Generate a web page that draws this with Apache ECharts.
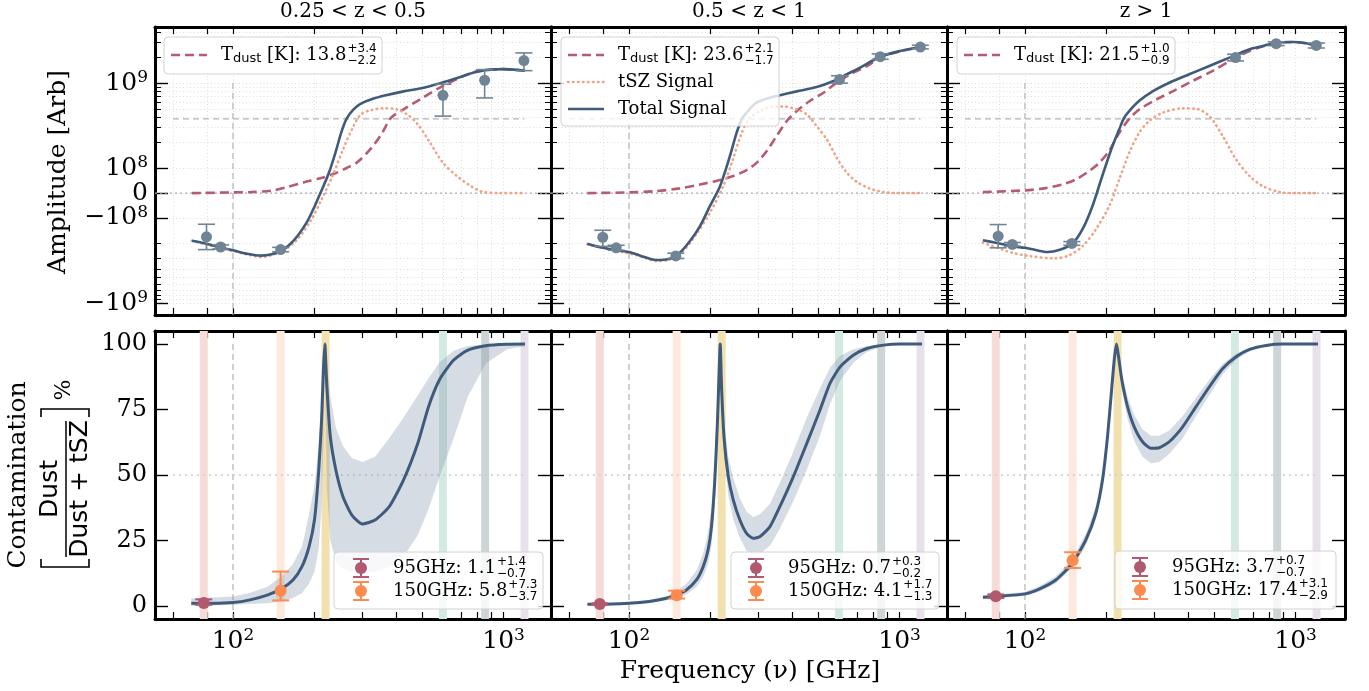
<!DOCTYPE html>
<html lang="en">
<head>
<meta charset="utf-8">
<script src="https://cdn.jsdelivr.net/npm/echarts@6.0.0/dist/echarts.min.js"></script>
<style>
  html, body { margin: 0; padding: 0; background: #fff; }
  #main { width: 1369px; height: 691px; }
</style>
</head>
<body>
<div id="main"></div>
<script>
// ---------------- data ----------------
// frequencies in GHz, amplitudes in Arb, contamination in %
var titles = ['0.25 < z < 0.5', '0.5 < z < 1', 'z > 1'];

// top row, 0.25 < z < 0.5
var totNu1 = [70.5, 79, 90, 100, 112, 127, 139, 150, 161, 174, 188, 200, 212, 226, 240, 251, 263, 279, 297, 325, 367, 427, 497, 579, 674, 784, 885, 1000, 1096, 1200];
var totAmp1 = [-1.86e8, -2.0e8, -2.24e8, -2.4e8, -2.63e8, -2.78e8, -2.68e8, -2.45e8, -2.1e8, -1.6e8, -1.11e8, -5.5e7, 8.2e6, 8.1e7, 1.59e8, 2.61e8, 3.83e8, 4.93e8, 5.75e8, 6.47e8, 7.2e8, 8.0e8, 8.7e8, 9.9e8, 1.15e9, 1.34e9, 1.44e9, 1.46e9, 1.44e9, 1.4e9];
var dustNu1 = [70.5, 100, 116, 139, 157, 182, 212, 240, 263, 288, 325, 356, 384, 427, 497, 597, 694, 784, 885, 1000, 1200];
var dustAmp1 = [0, 2.7e6, 4e6, 1e7, 2.3e7, 4.3e7, 6.1e7, 8.1e7, 1.01e8, 1.18e8, 1.74e8, 2.61e8, 3.93e8, 4.93e8, 6.6e8, 9.3e8, 1.17e9, 1.36e9, 1.43e9, 1.46e9, 1.4e9];
var tszNu1 = [70.5, 90, 116, 127, 150, 172, 194, 212, 233, 255, 279, 297, 325, 367, 402, 440, 482, 526, 597, 674, 760, 832, 970, 1200];
var tszAmp1 = [-1.86e8, -2.26e8, -2.75e8, -2.88e8, -2.5e8, -1.83e8, -1.07e8, -2.8e7, 6.8e7, 1.66e8, 3.13e8, 4.3e8, 4.84e8, 5.07e8, 4.93e8, 4.3e8, 3.28e8, 2.18e8, 1.16e8, 6.8e7, 2.7e7, 6e6, 0, 0];
var ptNu1 = [79.8, 90, 150, 597, 851, 1189];
var ptAmp1 = [-1.67e8, -2.2e8, -2.36e8, 7.2e8, 1.08e9, 1.84e9];
var ptLo1 = [-2.36e8, -2.32e8, -2.5e8, 4.1e8, 6.7e8, 1.4e9];
var ptHi1 = [-1.19e8, -2.08e8, -2.22e8, 9.7e8, 1.44e9, 2.26e9];

// top row, 0.5 < z < 1
var totNu2 = [70.2, 80, 89.7, 100, 109.5, 126, 141.5, 154, 168, 183, 199, 217, 236, 250, 261, 272, 296, 341, 361, 417, 494, 570, 639, 715, 848, 1005, 1193];
var totAmp2 = [-2.01e8, -2.25e8, -2.39e8, -2.52e8, -2.76e8, -3.13e8, -3.02e8, -2.57e8, -1.87e8, -1.25e8, -5.3e7, 2.8e7, 1.39e8, 2.62e8, 3.76e8, 4.5e8, 5.9e8, 6.9e8, 7.2e8, 8.0e8, 9.0e8, 1.06e9, 1.27e9, 1.52e9, 2.04e9, 2.38e9, 2.65e9];
var dustNu2 = [70.2, 100, 126, 154, 183, 210, 243, 272, 296, 323, 351, 383, 417, 467, 523, 586, 657, 757, 848, 1005, 1193];
var dustAmp2 = [0, 2.7e6, 8e6, 1.9e7, 3.5e7, 4.9e7, 6.9e7, 9.3e7, 1.16e8, 1.6e8, 2.39e8, 3.59e8, 4.7e8, 6.2e8, 7.7e8, 1.01e9, 1.27e9, 1.58e9, 2.0e9, 2.36e9, 2.63e9];
var tszNu2 = [70.2, 109.5, 126, 141.5, 158.5, 177, 199, 223, 242, 261, 280, 305, 341, 372, 417, 454, 494, 538, 586, 639, 695, 778, 873, 1005, 1193];
var tszAmp2 = [-2.05e8, -2.8e8, -3.2e8, -3.08e8, -2.45e8, -1.57e8, -8e7, 2.8e7, 1.27e8, 2.62e8, 3.93e8, 4.7e8, 5.3e8, 5.3e8, 4.92e8, 4.3e8, 3.13e8, 2.19e8, 1.33e8, 8.2e7, 4.5e7, 1.8e7, 4e6, 0, 0];
var ptNu2 = [80, 89.7, 149, 600, 848, 1193];
var ptAmp2 = [-1.69e8, -2.25e8, -2.8e8, 1.1e9, 2.04e9, 2.65e9];
var ptLo2 = [-2.16e8, -2.4e8, -3.0e8, 1.0e9, 1.9e9, 2.52e9];
var ptHi2 = [-1.4e8, -2.1e8, -2.6e8, 1.22e9, 2.2e9, 2.78e9];

// top row, z > 1
var totNu3 = [69.9, 77.9, 89.8, 100, 109.5, 121, 133.6, 149.7, 163, 177.5, 193, 210.5, 223, 232.6, 242.8, 264.4, 296.3, 341.4, 404.8, 480, 570, 676, 757, 848, 977, 1095, 1193];
var totAmp3 = [-1.83e8, -1.96e8, -2.16e8, -2.25e8, -2.39e8, -2.52e8, -2.39e8, -2.0e8, -1.37e8, -5.3e7, 6.9e7, 1.83e8, 2.87e8, 3.93e8, 4.7e8, 6.2e8, 8.0e8, 1.01e9, 1.27e9, 1.59e9, 1.99e9, 2.49e9, 2.72e9, 2.98e9, 3.04e9, 2.93e9, 2.72e9];
var dustNu3 = [69.9, 100, 119, 137.5, 154, 172.6, 188, 204.7, 223, 242.8, 264.4, 304.9, 351.4, 416.6, 494, 586, 676, 757, 848, 977, 1095, 1193];
var dustAmp3 = [4e6, 1.1e7, 2e7, 3.5e7, 5.5e7, 8.9e7, 1.16e8, 1.6e8, 2.62e8, 3.8e8, 4.9e8, 6.4e8, 8e8, 1.06e9, 1.39e9, 1.9e9, 2.38e9, 2.7e9, 2.96e9, 3.03e9, 2.93e9, 2.72e9];
var tszNu3 = [69.9, 89.8, 103.5, 128, 145.5, 163, 182.7, 204.7, 223, 242.8, 264.4, 287.9, 322.7, 382.6, 428.6, 480, 538, 603, 676, 757, 873, 1005, 1193];
var tszAmp3 = [-1.96e8, -2.57e8, -2.8e8, -2.99e8, -2.76e8, -2.16e8, -1.37e8, -5.3e7, 5.5e7, 1.53e8, 2.62e8, 3.59e8, 4.5e8, 5.05e8, 5.0e8, 4.1e8, 2.39e8, 1.27e8, 6.9e7, 2.8e7, 4e6, 0, 0];
var ptNu3 = [79.6, 89.8, 149, 600, 848, 1193];
var ptAmp3 = [-1.64e8, -2.05e8, -2.0e8, 1.99e9, 2.9e9, 2.77e9];
var ptLo3 = [-2.25e8, -2.15e8, -2.1e8, 1.82e9, 2.75e9, 2.58e9];
var ptHi3 = [-1.2e8, -1.95e8, -1.9e8, 2.18e9, 3.05e9, 2.95e9];

// dust temperature fits shown in the legends
var tDust = [13.8, 23.6, 21.5];
var tDustUp = [3.4, 2.1, 1.0];
var tDustDn = [2.2, 1.7, 0.9];

// bottom row: contamination curve with its shaded range
var conNu1 = [70.1, 78, 100, 115.7, 134.6, 152, 166.6, 179.8, 191, 200, 207.5, 212.5, 215.8, 218.4, 222.3, 229, 240, 255, 275, 301, 335, 378, 427, 482, 528, 579, 654, 738, 859, 1031, 1200];
var con1 = [1.0, 0.9, 1.3, 2.3, 4.2, 6.7, 9.9, 15, 22.6, 32.8, 51.9, 71, 90, 100, 83.7, 64.6, 51.9, 41.7, 34.7, 31.3, 32.8, 37.9, 48.1, 62.1, 76.1, 86.3, 93.9, 97.7, 99.4, 99.9, 100];
var conHi1 = [2.9, 3.0, 3.6, 5, 7.4, 11.5, 16, 22.6, 35, 46, 62, 77, 92, 100, 92, 80, 68, 61, 56.5, 55, 57, 64, 72, 80.5, 87, 93, 97.5, 99.3, 99.8, 100, 100];
var conLo1 = [0, 0.1, 0.4, 0.7, 1.0, 1.8, 3, 4.8, 8.5, 13, 22, 38, 62, 100, 45, 25, 17, 14, 13, 12.5, 13, 15, 19, 27, 37, 49, 64, 80, 92.6, 98, 99.2];

var conNu2 = [70.2, 77.4, 100, 119, 137.5, 149.7, 163, 177.6, 188, 196, 201.8, 207.6, 212.4, 215.4, 217.3, 219.8, 224.4, 232.8, 242.8, 257, 272, 288, 305, 332, 361, 405, 454, 508, 553, 603, 676, 757, 873, 1005, 1210];
var con2 = [0.6, 0.6, 1.0, 1.7, 2.9, 4.2, 6.1, 9.9, 15, 21.4, 30.3, 48.1, 71, 90, 100, 83.7, 64.6, 49.4, 40.5, 32.8, 27.7, 25.8, 26.5, 30.3, 37.9, 49.4, 62.1, 74.8, 85, 91.3, 95.8, 98.3, 99.6, 100, 100];
var conHi2 = [1.0, 1.0, 1.5, 2.4, 3.8, 5.5, 8.5, 13.5, 20, 28, 38, 57, 79, 94, 100, 88, 71, 57, 49, 41, 36, 34, 35, 39, 47, 59, 72, 83, 91, 95.5, 98, 99.3, 99.9, 100, 100];
var conLo2 = [0.4, 0.4, 0.7, 1.2, 2.1, 3.1, 4.4, 7.2, 11, 16, 23, 39, 63, 86, 100, 79, 58, 42, 33, 26, 21, 19.5, 20, 23, 29.5, 40, 52, 65, 77, 86, 93, 97, 99.2, 99.9, 100];

var conNu3 = [69.9, 77.9, 100, 112.7, 129.9, 149.7, 167.8, 182.7, 193.4, 201.8, 209.4, 214.3, 217.9, 221.7, 228, 239.3, 253.3, 272, 292, 313.5, 341.4, 382.6, 428.6, 480, 538, 603, 676, 778, 897, 1210];
var con3 = [3.3, 3.6, 4.6, 6.4, 9.9, 16.3, 25.2, 35.4, 48.1, 64.6, 83.7, 95.2, 100, 95.2, 86.3, 76.1, 68.4, 62.7, 60.2, 60.4, 62.7, 68.4, 76.1, 83.7, 90.7, 95.2, 98, 99.5, 100, 100];
var conHi3 = [4.0, 4.3, 5.4, 7.4, 11.2, 18, 27.5, 38, 51, 67, 85.5, 96, 100, 96.5, 89, 80, 73, 67.5, 65, 65, 67, 72.5, 79.5, 86.5, 92.5, 96.3, 98.6, 99.7, 100, 100];
var conLo3 = [2.6, 2.9, 3.8, 5.4, 8.6, 14.6, 23, 33, 45.5, 62, 82, 94.4, 100, 93.5, 83, 71.5, 63, 57, 54.5, 55, 58, 64, 72.5, 80.5, 88.5, 94, 97.3, 99.2, 99.9, 100];

// contamination measured at the two channels
var chanName = ['95GHz', '150GHz'];
var chanNu = [78, 150];
var cont95 = [1.1, 0.7, 3.7];
var cont95Up = [1.4, 0.3, 0.7];
var cont95Dn = [0.7, 0.2, 0.7];
var cont150 = [5.8, 4.1, 17.4];
var cont150Up = [7.3, 1.7, 3.1];
var cont150Dn = [3.7, 1.3, 2.9];

// instrument bands drawn as vertical stripes
var bandNu = [78, 150, 220, 597, 855, 1195];
var bandCol = ['#f6dcd6', '#fce8dc', '#f2e0ae', '#d3eae3', '#cdd5d6', '#e8e0eb'];

// reference marks
var refNu = 100;
var refSpan = [60, 1195];
var refAmp = 3.8e8;
var refPct = 50;

// ticks
var freqMajor = [100, 1000];
var freqMinor = [60, 80, 200, 300, 400, 500, 600, 700, 800, 900];
var ampMajor = [-1e9, -1e8, 0, 1e8, 1e9];
var ampMinor = [-9e8, -8e8, -7e8, -6e8, -5e8, -4e8, -3e8, -2e8, 2e8, 3e8, 4e8, 5e8, 6e8, 7e8, 8e8, 9e8, 2e9, 3e9, 4e9];
var pctTicks = [0, 25, 50, 75, 100];
var ampLim = [-1.38e9, 4.55e9];
var pctLim = [-5, 105];
var freqLo = 51.5;

// ---------------- look ----------------
var SERIF = 'DejaVu Serif', SANS = 'DejaVu Sans';
var C_TOT = '#3f5b7c', C_DUST = '#b65c70', C_TSZ = '#f2a283', C_PT = '#708496';
var C_95 = '#b0596f', C_150 = '#fd8a4e';
var COL_X = [155, 551, 947], COL_W = [396, 396, 398];
var ROW_Y = [27, 331], ROW_H = 288;
var PX_DEC = 270.6;

// symlog transform used for the amplitude axis
var LIN = 1e8, LINW = 0.29;
function T(v) {
  var a = Math.abs(v), s = v < 0 ? -1 : 1;
  return a < LIN ? s * LINW * a / LIN : s * (LINW + Math.log10(a / LIN));
}
var lg = Math.log10;

var RICH = {
  b: { fontFamily: SERIF, fontSize: 25, color: '#000', lineHeight: 28 },
  s: { fontFamily: SERIF, fontSize: 17, color: '#000', lineHeight: 14, verticalAlign: 'top' }
};

function ampLabel(v) {
  var best = 0;
  ampMajor.forEach(function (a, i) {
    if (Math.abs(T(a) - v) < Math.abs(T(ampMajor[best]) - v)) best = i;
  });
  var a = ampMajor[best];
  if (a === 0) return '{b|0}';
  return '{b|' + (a < 0 ? '\u221210' : '10') + '}{s|' + Math.round(lg(Math.abs(a))) + '}';
}

var option = {
  animation: false, backgroundColor: '#fff',
  grid: [], xAxis: [], yAxis: [], series: [], graphic: []
};

function tickAxis(extra) {
  return Object.assign({
    type: 'value',
    axisLine: { show: false, onZero: false },
    axisTick: { show: true, inside: true, length: 7, lineStyle: { color: '#000', width: 1.2 } },
    axisLabel: { show: false },
    splitLine: { show: false }
  }, extra);
}

var dotGrid = { show: true, lineStyle: { color: '#d6d6d6', width: 0.8, type: [1, 2.5] } };
var border = { show: true, onZero: false, lineStyle: { color: '#000', width: 3 } };

function addPanel(row, col) {
  var gi = option.grid.length;
  option.grid.push({ left: COL_X[col], top: ROW_Y[row], width: COL_W[col], height: ROW_H });
  var xmin = lg(freqLo), xmax = xmin + COL_W[col] / PX_DEC;
  var xt = freqMajor.concat(freqMinor).map(lg);
  var xi = option.xAxis.length;
  option.xAxis.push(tickAxis({
    gridIndex: gi, position: 'bottom', min: xmin, max: xmax, axisLine: border,
    axisTick: { show: true, inside: true, length: 7, customValues: xt, lineStyle: { color: '#000', width: 1.2 } },
    axisLabel: row === 1 ? {
      show: true, customValues: freqMajor.map(lg), margin: 8, rich: RICH,
      formatter: function (v) { return '{b|10}{s|' + Math.round(v) + '}'; }
    } : { show: false },
    splitLine: row === 0 ? dotGrid : { show: false }
  }));
  option.xAxis.push(tickAxis({
    gridIndex: gi, position: 'top', min: xmin, max: xmax, axisLine: border,
    axisTick: { show: true, inside: true, length: 7, customValues: xt, lineStyle: { color: '#000', width: 1.2 } }
  }));
  var yi = option.yAxis.length;
  if (row === 0) {
    var ymin = T(ampLim[0]), ymax = T(ampLim[1]);
    var maj = ampMajor.map(T), mnr = ampMinor.map(T);
    ['left', 'right'].forEach(function (pos) {
      option.yAxis.push(tickAxis({
        gridIndex: gi, position: pos, min: ymin, max: ymax, axisLine: border,
        axisTick: { show: true, inside: true, length: 13, customValues: maj, lineStyle: { color: '#000', width: 1.4 } },
        axisLabel: (pos === 'left' && col === 0) ? {
          show: true, customValues: maj, margin: 7, rich: RICH, formatter: ampLabel
        } : { show: false },
        splitLine: pos === 'left' ? dotGrid : { show: false }
      }));
      option.yAxis.push(tickAxis({
        gridIndex: gi, position: pos, min: ymin, max: ymax,
        axisTick: { show: true, inside: true, length: 6, customValues: mnr, lineStyle: { color: '#000', width: 1 } },
        splitLine: pos === 'left' ? dotGrid : { show: false }
      }));
    });
  } else {
    ['left', 'right'].forEach(function (pos) {
      option.yAxis.push(tickAxis({
        gridIndex: gi, position: pos, min: pctLim[0], max: pctLim[1], axisLine: border,
        axisTick: { show: true, inside: true, length: 13, customValues: pctTicks, lineStyle: { color: '#000', width: 1.4 } },
        axisLabel: (pos === 'left' && col === 0) ? {
          show: true, customValues: pctTicks, margin: 8,
          fontFamily: SERIF, fontSize: 24, color: '#000'
        } : { show: false }
      }));
    });
  }
  return { xi: xi, yi: yi, xmin: xmin, xmax: xmax };
}

function line(ax, nu, vals, style, z, smooth) {
  option.series.push({
    type: 'line', xAxisIndex: ax.xi, yAxisIndex: ax.yi, silent: true,
    data: nu.map(function (f, i) { return [lg(f), vals[i]]; }),
    symbol: 'none', showSymbol: false, smooth: smooth || false,
    lineStyle: style, z: z
  });
}

function errRender(color, r, cap, lw) {
  return function (params, api) {
    var c = api.coord([api.value(0), api.value(1)]);
    var lo = api.coord([api.value(0), api.value(2)])[1];
    var hi = api.coord([api.value(0), api.value(3)])[1];
    var st = { stroke: color, lineWidth: lw };
    return { type: 'group', children: [
      { type: 'line', shape: { x1: c[0], y1: lo, x2: c[0], y2: hi }, style: st },
      { type: 'line', shape: { x1: c[0] - cap, y1: lo, x2: c[0] + cap, y2: lo }, style: st },
      { type: 'line', shape: { x1: c[0] - cap, y1: hi, x2: c[0] + cap, y2: hi }, style: st },
      { type: 'circle', shape: { cx: c[0], cy: c[1], r: r }, style: { fill: color } }
    ] };
  };
}

function errSeries(ax, rows, color, r, cap, lw) {
  option.series.push({
    type: 'custom', xAxisIndex: ax.xi, yAxisIndex: ax.yi, silent: true, z: 6,
    data: rows, encode: { x: 0, y: [1, 2, 3] }, renderItem: errRender(color, r, cap, lw)
  });
}

function bandSeries(ax, nu, lo, hi) {
  option.series.push({
    type: 'custom', xAxisIndex: ax.xi, yAxisIndex: ax.yi, silent: true, z: 3,
    data: nu.map(function (f, i) { return [lg(f), lo[i], hi[i]]; }),
    encode: { x: 0, y: [1, 2] },
    renderItem: function (params, api) {
      if (params.dataIndex !== 0) return null;
      var pts = [], i;
      for (i = 0; i < nu.length; i++) pts.push(api.coord([lg(nu[i]), hi[i]]));
      for (i = nu.length - 1; i >= 0; i--) pts.push(api.coord([lg(nu[i]), lo[i]]));
      return { type: 'polygon', shape: { points: pts }, style: { fill: '#7f91aa', opacity: 0.32 } };
    }
  });
}

var topSets = [
  [totNu1, totAmp1, dustNu1, dustAmp1, tszNu1, tszAmp1, ptNu1, ptAmp1, ptLo1, ptHi1],
  [totNu2, totAmp2, dustNu2, dustAmp2, tszNu2, tszAmp2, ptNu2, ptAmp2, ptLo2, ptHi2],
  [totNu3, totAmp3, dustNu3, dustAmp3, tszNu3, tszAmp3, ptNu3, ptAmp3, ptLo3, ptHi3]
];
var botSets = [
  [conNu1, con1, conLo1, conHi1],
  [conNu2, con2, conLo2, conHi2],
  [conNu3, con3, conLo3, conHi3]
];

for (var c = 0; c < 3; c++) {
  var s = topSets[c];
  var ax = addPanel(0, c);
  // zero line, reference marks
  option.series.push({
    type: 'line', xAxisIndex: ax.xi, yAxisIndex: ax.yi, silent: true, symbol: 'none', z: 2,
    data: [[ax.xmin, 0], [ax.xmax, 0]],
    lineStyle: { color: '#a3adbb', width: 1.4, type: [2, 3] }
  });
  line(ax, [refNu, refNu], [T(1e9), T(ampLim[0])], { color: '#b3b3b3', width: 1.2, type: [6, 4] }, 2);
  line(ax, refSpan, [T(refAmp), T(refAmp)], { color: '#b3b3b3', width: 1.2, type: [6, 4] }, 2);
  line(ax, s[2], s[3].map(T), { color: C_DUST, width: 2.6, type: [9, 5] }, 4, 0.3);
  line(ax, s[4], s[5].map(T), { color: C_TSZ, width: 2.6, type: [0.5, 4.5], cap: 'round' }, 4, 0.3);
  line(ax, s[0], s[1].map(T), { color: C_TOT, width: 2.6 }, 5, 0.3);
  errSeries(ax, s[6].map(function (f, i) {
    return [lg(f), T(s[7][i]), T(s[8][i]), T(s[9][i])];
  }), C_PT, 5.5, 8.5, 1.6);
}

for (c = 0; c < 3; c++) {
  var b = botSets[c];
  var axb = addPanel(1, c);
  bandNu.forEach(function (f, i) {
    option.series.push({
      type: 'line', xAxisIndex: axb.xi, yAxisIndex: axb.yi, silent: true, symbol: 'none', z: 1,
      data: [[lg(f), pctLim[0]], [lg(f), pctLim[1]]],
      lineStyle: { color: bandCol[i], width: 8, cap: 'butt' }
    });
  });
  line(axb, [refNu, refNu], [100, pctLim[0]], { color: '#b3b3b3', width: 1.2, type: [6, 4] }, 2);
  line(axb, refSpan, [refPct, refPct], { color: '#cccccc', width: 1.4, type: [2, 4] }, 2);
  bandSeries(axb, b[0], b[2], b[3]);
  line(axb, b[0], b[1], { color: C_TOT, width: 3 }, 5, 0.2);
  var v95 = cont95[c], v150 = cont150[c];
  errSeries(axb, [[lg(chanNu[0]), v95, v95 - cont95Dn[c], v95 + cont95Up[c]]], C_95, 6, 8.5, 2);
  errSeries(axb, [[lg(chanNu[1]), v150, v150 - cont150Dn[c], v150 + cont150Up[c]]], C_150, 6, 8.5, 2);
}

// ---------------- text, legends ----------------
var mctx = document.createElement('canvas').getContext('2d');
function tw(s, size, fam) { mctx.font = size + 'px "' + fam + '"'; return mctx.measureText(s).width; }
function txt(x, y, s, size, fam, opt) {
  opt = opt || {};
  return {
    type: 'text', x: x, y: y, z: 100, rotation: opt.rot || 0,
    style: { text: s, font: size + 'px "' + fam + '"', fill: opt.fill || '#000',
      align: opt.align || 'left', verticalAlign: opt.va || 'middle' }
  };
}
// sequence of text runs starting at x, each {s, size, fam, dy}
function runs(x, y, parts) {
  var out = [];
  parts.forEach(function (p) {
    out.push(txt(x, y + (p.dy || 0), p.s, p.size, p.fam));
    x += tw(p.s, p.size, p.fam);
  });
  return { els: out, x: x };
}
function scripts(x, y, up, dn) {
  return [txt(x, y - 6.5, '+' + up, 12, SANS), txt(x, y + 5.5, '\u2212' + dn, 12, SANS)];
}
function box(x, y, w, h) {
  return { type: 'rect', z: 99, shape: { x: x, y: y, width: w, height: h, r: 4 },
    style: { fill: 'rgba(255,255,255,0.8)', stroke: '#d2d2d2', lineWidth: 1 } };
}
function sample(x, y, style) {
  return { type: 'line', z: 100, shape: { x1: x, y1: y, x2: x + 36, y2: y }, style: style };
}

var G = option.graphic;
// titles
titles.forEach(function (t, i) {
  G.push(txt(COL_X[i] + COL_W[i] / 2, 12, t, 20, SERIF, { align: 'center' }));
});
// axis names
G.push(txt(58, 172, 'Amplitude [Arb]', 25, SERIF, { align: 'center', rot: Math.PI / 2 }));
G.push(txt(750, 671, 'Frequency (\u03bd) [GHz]', 25, SERIF, { align: 'center' }));
G.push(txt(18, 475, 'Contamination', 25, SERIF, { align: 'center', rot: Math.PI / 2 }));
G.push(txt(50, 489, 'Dust', 25, SANS, { align: 'center', rot: Math.PI / 2 }));
G.push(txt(80, 489, 'Dust + tSZ', 25, SANS, { align: 'center', rot: Math.PI / 2 }));
G.push({ type: 'line', z: 100, shape: { x1: 66, y1: 421, x2: 66, y2: 557 }, style: { stroke: '#000', lineWidth: 1.5 } });
G.push({ type: 'polyline', z: 100, shape: { points: [[41, 559], [41, 567], [89, 567], [89, 559]] }, style: { stroke: '#000', lineWidth: 1.6, fill: null } });
G.push({ type: 'polyline', z: 100, shape: { points: [[41, 417], [41, 409], [89, 409], [89, 417]] }, style: { stroke: '#000', lineWidth: 1.6, fill: null } });
G.push(txt(64, 390, '%', 22, SERIF, { align: 'center', rot: Math.PI / 2 }));

// top legends
var legTop = [[164, 37, 218, 37], [561, 37, 218, 89], [957, 37, 218, 37]];
legTop.forEach(function (L, i) {
  G.push(box(L[0], L[1], L[2], L[3]));
  var y0 = L[1] + 18, sx = L[0] + 7, tx = L[0] + 57;
  G.push(sample(sx, y0, { stroke: C_DUST, lineWidth: 2.6, lineDash: [9, 5] }));
  var r = runs(tx, y0, [
    { s: 'T', size: 18, fam: SERIF },
    { s: 'dust', size: 13, fam: SANS, dy: 4 },
    { s: ' [K]: ' + tDust[i].toFixed(1), size: 18, fam: SERIF }
  ]);
  r.els.forEach(function (e) { G.push(e); });
  scripts(r.x + 1, y0, tDustUp[i].toFixed(1), tDustDn[i].toFixed(1)).forEach(function (e) { G.push(e); });
  if (i === 1) {
    G.push(sample(sx, y0 + 27, { stroke: C_TSZ, lineWidth: 2.6, lineDash: [0.5, 4.5], lineCap: 'round' }));
    G.push(txt(tx, y0 + 27, 'tSZ Signal', 18, SERIF));
    G.push(sample(sx, y0 + 54, { stroke: C_TOT, lineWidth: 2.6 }));
    G.push(txt(tx, y0 + 54, 'Total Signal', 18, SERIF));
  }
});

// bottom legends
var legBot = [[334, 552, 209, 57], [731, 552, 208, 57], [1115, 551, 221, 58]];
var legMark = [361, 756, 1140];
legBot.forEach(function (L, i) {
  G.push(box(L[0], L[1], L[2], L[3]));
  var rowsY = [L[1] + 16, L[1] + 39];
  var vals = [[cont95[i], cont95Up[i], cont95Dn[i], C_95], [cont150[i], cont150Up[i], cont150Dn[i], C_150]];
  vals.forEach(function (v, k) {
    var y = rowsY[k], mx = legMark[i], st = { stroke: v[3], lineWidth: 2 };
    G.push({ type: 'line', z: 100, shape: { x1: mx, y1: y - 9, x2: mx, y2: y + 9 }, style: st });
    G.push({ type: 'line', z: 100, shape: { x1: mx - 8, y1: y - 9, x2: mx + 8, y2: y - 9 }, style: st });
    G.push({ type: 'line', z: 100, shape: { x1: mx - 8, y1: y + 9, x2: mx + 8, y2: y + 9 }, style: st });
    G.push({ type: 'circle', z: 100, shape: { cx: mx, cy: y, r: 6 }, style: { fill: v[3] } });
    var t = chanName[k] + ': ' + v[0].toFixed(1);
    var tx = mx + 32;
    G.push(txt(tx, y, t, 18, SERIF));
    scripts(tx + tw(t, 18, SERIF) + 1, y, v[1].toFixed(1), v[2].toFixed(1)).forEach(function (e) { G.push(e); });
  });
});

var chart = echarts.init(document.getElementById('main'), null, { renderer: 'canvas' });
chart.setOption(option);
</script>
</body>
</html>
